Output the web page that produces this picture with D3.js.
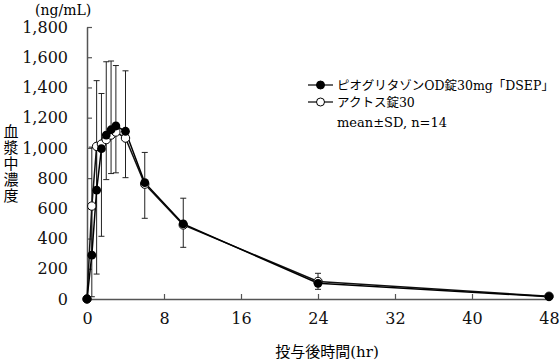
<!DOCTYPE html>
<html>
<head>
<meta charset="utf-8">
<script src="https://cdn.jsdelivr.net/npm/d3@7"></script>
<style>
  body { margin: 0; background: #fff; }
  svg { display: block; }
  text { font-family: "DejaVu Serif", "Noto Sans CJK JP", serif; }
</style>
</head>
<body>
<div id="chart"></div>
<script>
// sampling times (hr)
const times = [0, 0.5, 1, 1.5, 2, 2.5, 3, 4, 6, 10, 24, 48]

// test product (filled circles), SD shown upward
const testName = "ピオグリタゾンOD錠30mg「DSEP」"
const testMean = [0, 290, 720, 995, 1085, 1120, 1145, 1110, 770, 497, 104, 15]
const testSD   = [0, 715, 725, 365, 485, 455, 400, 400, 200, 170, 66, 8]

// reference product (open circles), SD shown downward
const refName = "アクトス錠30"
const refMean = [0, 615, 1010, 1025, 1055, 1085, 1105, 1065, 760, 490, 116, 18]
const refSD   = [0, 600, 845, 610, 265, 255, 270, 262, 226, 148, 52, 8]

// tick labels
const xTicks = [0, 8, 16, 24, 32, 40, 48]
const yTicks = [0, 200, 400, 600, 800, 1000, 1200, 1400, 1600, 1800]

const width = 560,
      height = 361,
      margin = ({ top: 27, right: 11, bottom: 62, left: 87 })

let svg = d3.select("#chart")
    .append("svg")
    .attr("width", width)
    .attr("height", height)

let x = d3.scaleLinear()
    .domain([0, 48])
    .range([margin.left, width - margin.right])
let y = d3.scaleLinear()
    .domain([0, 1800])
    .range([height - margin.bottom, margin.top])

// axes, ticks pointing inward
let xAxis = svg.append("g")
    .attr("transform", `translate(0,${y(0)})`)
    .call(d3.axisBottom(x).tickValues(xTicks).tickSize(-5).tickSizeOuter(0).tickPadding(14))
let yAxis = svg.append("g")
    .attr("transform", `translate(${x(0)},0)`)
    .call(d3.axisLeft(y).tickValues(yTicks).tickFormat(d3.format(",")).tickSize(-5).tickSizeOuter(0).tickPadding(19))

for (let ax of [xAxis, yAxis]) {
    ax.select(".domain").attr("stroke", "#555").attr("stroke-width", 1.5)
    ax.selectAll(".tick line").attr("stroke", "#555").attr("stroke-width", 1.2)
    ax.selectAll(".tick text")
        .style("font-size", "16px")
        .attr("fill", "#111")
        .style("font-family", "DejaVu Serif")
}

// build rows for each series
const test = times.map((t, i) => ({ t: t, m: testMean[i], sd: testSD[i] }))
const ref = times.map((t, i) => ({ t: t, m: refMean[i], sd: refSD[i] }))

// error bars: test upward, reference downward
const cap = 3
function errorBars(rows, dir) {
    let g = svg.append("g").attr("stroke", "#222").attr("stroke-width", 1)
    let rowsWithSD = rows.filter(d => d.sd > 0)
    g.selectAll("line.bar")
        .data(rowsWithSD)
        .join("line")
        .attr("x1", d => x(d.t)).attr("x2", d => x(d.t))
        .attr("y1", d => y(d.m))
        .attr("y2", d => y(Math.max(0, d.m + dir * d.sd)))
    g.selectAll("line.cap")
        .data(rowsWithSD)
        .join("line")
        .attr("x1", d => x(d.t) - cap).attr("x2", d => x(d.t) + cap)
        .attr("y1", d => y(Math.max(0, d.m + dir * d.sd)))
        .attr("y2", d => y(Math.max(0, d.m + dir * d.sd)))
}
errorBars(ref, -1)
errorBars(test, 1)

let line = d3.line()
    .x(d => x(d.t))
    .y(d => y(d.m))

// reference series first so test markers sit on top
svg.append("path")
    .datum(ref)
    .attr("fill", "none")
    .attr("stroke", "#111")
    .attr("stroke-width", 1.5)
    .attr("d", line)
svg.append("path")
    .datum(test)
    .attr("fill", "none")
    .attr("stroke", "#000")
    .attr("stroke-width", 1.5)
    .attr("d", line)

svg.append("g")
    .selectAll("circle")
    .data(ref)
    .join("circle")
    .attr("cx", d => x(d.t))
    .attr("cy", d => y(d.m))
    .attr("r", 4.2)
    .attr("fill", "#fff")
    .attr("stroke", "#000")
    .attr("stroke-width", 1)
svg.append("g")
    .selectAll("circle")
    .data(test)
    .join("circle")
    .attr("cx", d => x(d.t))
    .attr("cy", d => y(d.m))
    .attr("r", 4.4)
    .attr("fill", "#000")

// legend
const legendItems = [
    { name: testName, fill: "#000", yy: 85 },
    { name: refName, fill: "#fff", yy: 102 }
]
let legend = svg.append("g")
for (let item of legendItems) {
    legend.append("line")
        .attr("x1", 308).attr("x2", 333)
        .attr("y1", item.yy).attr("y2", item.yy)
        .attr("stroke", "#000").attr("stroke-width", 1.2)
    legend.append("circle")
        .attr("cx", 320.5).attr("cy", item.yy).attr("r", 4)
        .attr("fill", item.fill).attr("stroke", "#000").attr("stroke-width", 1)
    legend.append("text")
        .attr("x", 337).attr("y", item.yy)
        .attr("dy", "0.36em")
        .style("font-size", "12.5px")
        .text(item.name)
}
legend.append("text")
    .attr("x", 337).attr("y", 122)
    .attr("dy", "0.36em")
    .style("font-size", "13px")
    .text("mean±SD, n=14")

// unit label
svg.append("text")
    .attr("x", 35).attr("y", 15)
    .style("font-size", "14px")
    .text("(ng/mL)")

// y axis title, written vertically
svg.append("text")
    .attr("x", 11)
    .attr("y", 164)
    .attr("text-anchor", "middle")
    .style("writing-mode", "vertical-rl")
    .style("letter-spacing", "1.2px")
    .style("font-size", "15px")
    .style("font-family", "Noto Sans CJK JP")
    .text("血漿中濃度")

// x axis title
svg.append("text")
    .attr("x", 327)
    .attr("y", 357)
    .attr("text-anchor", "middle")
    .style("font-size", "15px")
    .text("投与後時間(hr)")
</script>
</body>
</html>
